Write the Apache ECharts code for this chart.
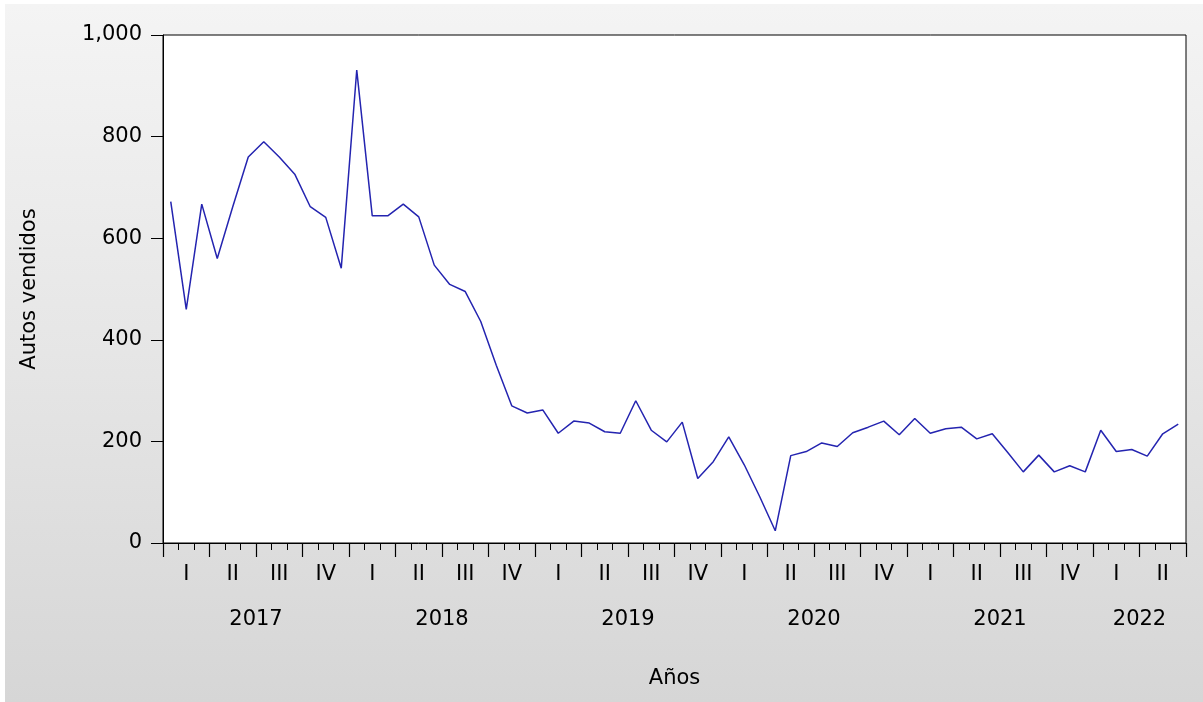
<!DOCTYPE html>
<html>
<head>
<meta charset="utf-8">
<script src="https://cdn.jsdelivr.net/npm/echarts@6/dist/echarts.min.js"></script>
<style>
  html, body { margin: 0; padding: 0; background: #ffffff; }
  #bg { position: absolute; left: 5px; top: 4px; width: 1198px; height: 698px;
        background: linear-gradient(to bottom, #f4f4f4 0%, #e6e6e6 50%, #d6d6d6 100%); }
  #chart { position: absolute; left: 0; top: 0; width: 1203px; height: 702px; }
</style>
</head>
<body>
<div id="bg"></div>
<div id="chart"></div>
<script>
// ---- Data (monthly, Jan 2017 - Jun 2022) ----
const startYear = 2017;
const years = ['2017', '2018', '2019', '2020', '2021', '2022'];
const monthsPerYear = [12, 12, 12, 12, 12, 6];
const quarterLabels = ['I', 'II', 'III', 'IV'];
const yTicks = [0, 200, 400, 600, 800, 1000];
const autosVendidos = [
  672, 460, 667, 560, 662, 760, 790, 760, 726, 662, 641, 541,
  931, 644, 644, 667, 642, 547, 509, 495, 436, 350, 270, 256,
  262, 216, 240, 236, 219, 216, 280, 222, 199, 238, 127, 160,
  209, 154, 91, 24, 172, 180, 197, 190, 217, 228, 240, 213,
  245, 216, 225, 228, 205, 215, 178, 140, 173, 140, 152, 140,
  222, 180, 184, 171, 215, 234
];
const yAxisName = 'Autos vendidos';
const xAxisName = 'Años';

// ---- Derived category lists ----
const monthCats = [];
years.forEach((y, yi) => {
  for (let m = 1; m <= monthsPerYear[yi]; m++) monthCats.push(y + '-' + (m < 10 ? '0' + m : m));
});
const nMonths = monthCats.length;
// half-month boundary positions (0..2n), used to center year labels
const halfCats = [];
for (let j = 0; j <= 2 * nMonths; j++) halfCats.push(String(j));
const yearCenterIdx = {};
let acc = 0;
years.forEach((y, yi) => { yearCenterIdx[2 * acc + monthsPerYear[yi]] = y; acc += monthsPerYear[yi]; });

const FONT = 'DejaVu Sans';
const TXT = '#000000';

const chart = echarts.init(document.getElementById('chart'), null, { renderer: 'canvas' });
chart.setOption({
  animation: false,
  backgroundColor: 'transparent',
  grid: {
    left: 163, top: 35, right: 17, bottom: 159,
    show: true, backgroundColor: '#ffffff', borderColor: '#000000', borderWidth: 1,
    containLabel: false
  },
  xAxis: [
    {
      type: 'category', data: monthCats, boundaryGap: true, position: 'bottom',
      axisLine: { show: true, lineStyle: { color: '#000', width: 1 } },
      axisTick: { show: true, interval: 0, length: 7, lineStyle: { color: '#000', width: 1 } },
      axisLabel: {
        interval: (i) => i % 3 === 1,
        formatter: (v, i) => quarterLabels[Math.floor((parseInt(v.slice(5), 10) - 1) / 3)],
        margin: 21, fontSize: 21, color: TXT, fontFamily: FONT
      },
      splitLine: { show: false },
      name: xAxisName, nameLocation: 'middle', nameGap: 125,
      nameTextStyle: { fontSize: 21, color: TXT, fontFamily: FONT }
    },
    {
      type: 'category', data: monthCats, boundaryGap: true, position: 'bottom',
      axisLine: { show: false },
      axisTick: { show: true, interval: (i) => i % 3 === 0, length: 14, lineStyle: { color: '#000', width: 1.2 } },
      axisLabel: { show: false },
      splitLine: { show: false }
    },
    {
      type: 'category', data: halfCats, boundaryGap: false, position: 'bottom',
      axisLine: { show: false },
      axisTick: { show: false },
      axisLabel: {
        interval: (i) => yearCenterIdx[i] !== undefined,
        formatter: (v, i) => yearCenterIdx[i] || '',
        margin: 66, fontSize: 21, color: TXT, fontFamily: FONT
      },
      splitLine: { show: false }
    }
  ],
  yAxis: {
    type: 'value', min: yTicks[0], max: yTicks[yTicks.length - 1], interval: 200,
    axisLine: { show: true, lineStyle: { color: '#000', width: 1 } },
    axisTick: { show: true, length: 12, lineStyle: { color: '#000', width: 1 } },
    axisLabel: {
      formatter: (v) => v.toLocaleString('en-US'),
      margin: 21, fontSize: 21, color: TXT, fontFamily: FONT
    },
    splitLine: { show: false },
    name: yAxisName, nameLocation: 'middle', nameGap: 123,
    nameTextStyle: { fontSize: 21, color: TXT, fontFamily: FONT }
  },
  series: [{
    type: 'line', xAxisIndex: 0, data: autosVendidos,
    symbol: 'none', smooth: false,
    lineStyle: { color: '#2424b0', width: 1.5 }
  }]
});
</script>
</body>
</html>
